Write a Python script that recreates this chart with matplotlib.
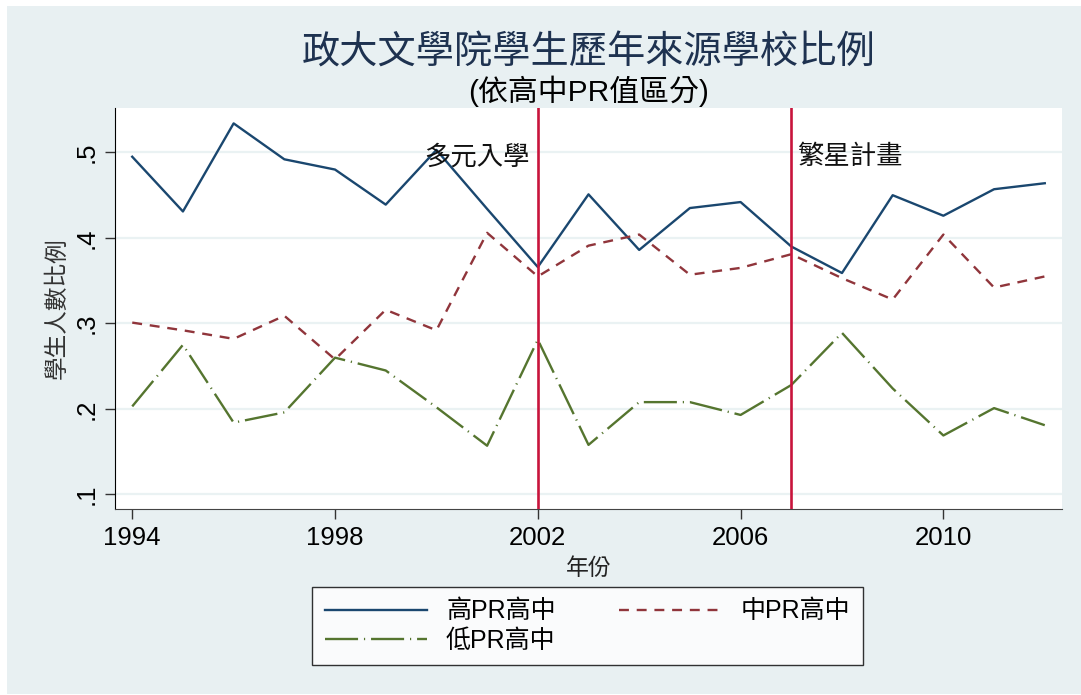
import matplotlib
matplotlib.use('Agg')
import matplotlib.pyplot as plt
from matplotlib.patches import Rectangle

plt.rcParams['font.family'] = ['Liberation Sans', 'Noto Sans CJK TC', 'DejaVu Sans']

# data
years = list(range(1994, 2013))
high_pr = [0.495, 0.431, 0.534, 0.492, 0.480, 0.439, 0.503, 0.434, 0.366, 0.451,
           0.386, 0.435, 0.442, 0.390, 0.359, 0.450, 0.426, 0.457, 0.464]
mid_pr = [0.301, 0.292, 0.282, 0.309, 0.258, 0.316, 0.292, 0.406, 0.355, 0.391,
          0.404, 0.357, 0.365, 0.381, 0.353, 0.328, 0.404, 0.342, 0.355]
low_pr = [0.203, 0.275, 0.184, 0.196, 0.260, 0.245, 0.202, 0.157, 0.281, 0.158,
          0.208, 0.208, 0.193, 0.228, 0.289, 0.224, 0.169, 0.201, 0.181]
series_labels = ['高PR高中', '中PR高中', '低PR高中']
x_ticks = [1994, 1998, 2002, 2006, 2010]
y_ticks = [0.1, 0.2, 0.3, 0.4, 0.5]
y_ticklabels = ['.1', '.2', '.3', '.4', '.5']
policy_years = [2002, 2007]
policy_labels = ['多元入學', '繁星計畫']

BG = '#e8f0f2'
CJK = ['Noto Sans CJK TC', 'DejaVu Sans']


def main():
    fig = plt.figure(figsize=(10.81, 6.95), dpi=100, facecolor='white')
    fig.patches.append(Rectangle((7 / 1081, 0.002), 1 - 7 / 1081, 1 - 6 / 695 - 0.002,
                                 transform=fig.transFigure, facecolor=BG,
                                 edgecolor='none', zorder=-10))
    ax = fig.add_axes([115 / 1081, 1 - 509 / 695, (1062 - 115) / 1081, (509 - 108) / 695])
    ax.set_facecolor('white')

    h1, = ax.plot(years, high_pr, color='#1a476f', lw=1.7, label=series_labels[0])
    h2, = ax.plot(years, mid_pr, color='#90353b', lw=1.7, dashes=(4.2, 3.3), label=series_labels[1])
    h3, = ax.plot(years, low_pr, color='#55752f', lw=1.7, dashes=(14, 2.5, 0.5, 2.5),
                  label=series_labels[2])

    for yr, txt, ha, dx in zip(policy_years, policy_labels, ['right', 'left'], [-0.15, 0.12]):
        ax.axvline(yr, color='#c8143c', lw=1.9, zorder=3)
        ax.text(yr + dx, 0.495, txt, ha=ha, va='center', fontsize=19,
                family=CJK, color='#111111')

    ax.set_xlim(1993.66, 2012.34)
    ax.set_ylim(0.083, 0.552)
    ax.set_xticks(x_ticks)
    ax.set_yticks(y_ticks)
    ax.set_yticklabels(y_ticklabels, rotation=90, va='center')
    ax.tick_params(axis='both', labelsize=18.5, length=7, width=1, color='#333333', pad=5)
    ax.grid(axis='y', color='#eaf2f3', lw=1.6)
    ax.set_axisbelow(True)
    for side in ['top', 'right']:
        ax.spines[side].set_visible(False)
    ax.spines['left'].set_color('black')
    ax.spines['bottom'].set_color('#444444')

    ax.set_xlabel('年份', fontsize=16.5, family=CJK, color='#222222', labelpad=5)
    ax.set_ylabel('學生人數比例', fontsize=17, family=CJK, color='#333333', labelpad=4)

    fig.text(0.5445, 1 - 53 / 695, '政大文學院學生歷年來源學校比例', ha='center', va='center',
             fontsize=27.5, family=CJK, color='#1e3250')
    fig.text(0.544, 1 - 91 / 695, '(依高中PR值區分)', ha='center', va='center',
             fontsize=21.5, color='black')

    # row-wise order: high, mid on top row; low below
    leg = fig.legend([h1, h3, h2], [series_labels[0], series_labels[2], series_labels[1]],
                     loc='center', bbox_to_anchor=((313 + 862) / 2 / 1081, 1 - 626 / 695),
                     ncol=2, fontsize=18, frameon=True, fancybox=False,
                     handlelength=4.1, columnspacing=2.55, handletextpad=0.75,
                     borderpad=0.5, labelspacing=0.22)
    leg.get_frame().set_edgecolor('black')
    leg.get_frame().set_linewidth(1.0)

    fig.savefig('out.png', dpi=100, facecolor=fig.get_facecolor())


if __name__ == '__main__':
    main()
